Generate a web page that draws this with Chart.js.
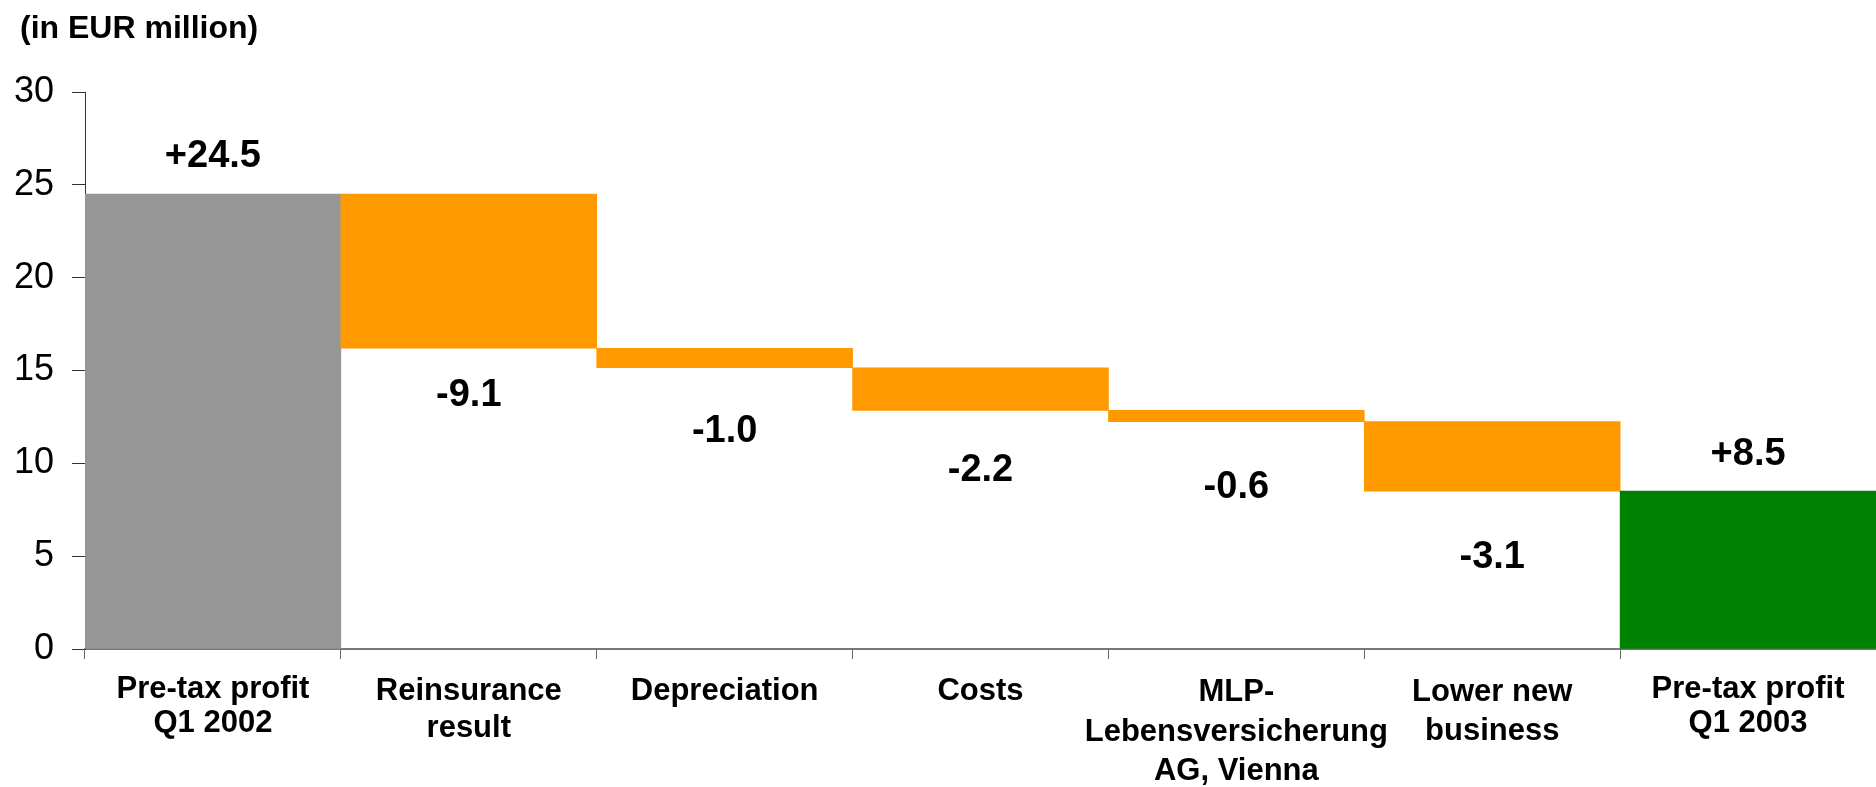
<!DOCTYPE html>
<html>
<head>
<meta charset="utf-8">
<script src="https://cdn.jsdelivr.net/npm/chart.js@4.4.1/dist/chart.umd.min.js"></script>
<style>
  html, body { margin: 0; padding: 0; background: #ffffff; }
  #wrap { width: 1876px; height: 787px; position: relative; }
</style>
</head>
<body>
<div id="wrap"><canvas id="c"></canvas></div>
<script>
// ---- data ----
const categories = [
  ["Pre-tax profit", "Q1 2002"],
  ["Reinsurance", "result"],
  "Depreciation",
  "Costs",
  ["MLP-", "Lebensversicherung", "AG, Vienna"],
  ["Lower new", "business"],
  ["Pre-tax profit", "Q1 2003"]
];
const barStart = [0, 16.2, 15.15, 12.85, 12.25, 8.5, 0];
const barEnd   = [24.5, 24.5, 16.2, 15.15, 12.85, 12.25, 8.5];
const valueLabels = ["+24.5", "-9.1", "-1.0", "-2.2", "-0.6", "-3.1", "+8.5"];
const barKinds = ["total", "delta", "delta", "delta", "delta", "delta", "total"];
const yTickValues = [0, 5, 10, 15, 20, 25, 30];
const unitTitle = "(in EUR million)";

// ---- styles ----
const barColors = ["#969696", "#FF9900", "#FF9900", "#FF9900", "#FF9900", "#FF9900", "#008000"];
const labelGap = [38, 47, 64, 60, 66, 66, 37];
const catLineHeights = [1.08, 1.2, 1.2, 1.2, 1.27, 1.25, 1.08];
const FONT = "'Liberation Sans', Arial, Helvetica, sans-serif";

const valueLabelPlugin = {
  id: 'valueLabels',
  afterDatasetsDraw(chart) {
    const ctx = chart.ctx;
    const meta = chart.getDatasetMeta(0);
    ctx.save();
    ctx.font = "bold 38px " + FONT;
    ctx.fillStyle = "#000000";
    ctx.textAlign = "center";
    ctx.textBaseline = "middle";
    meta.data.forEach((bar, i) => {
      const p = bar.getProps(['x', 'y', 'base'], true);
      const top = Math.min(p.y, p.base);
      const bottom = Math.max(p.y, p.base);
      const y = barKinds[i] === "total" ? top - labelGap[i] : bottom + labelGap[i];
      ctx.fillText(valueLabels[i], p.x, y);
    });
    ctx.restore();
  }
};

const unitTitlePlugin = {
  id: 'unitTitle',
  afterDraw(chart) {
    const ctx = chart.ctx;
    ctx.save();
    ctx.font = "bold 32px " + FONT;
    ctx.fillStyle = "#000000";
    ctx.textAlign = "left";
    ctx.textBaseline = "alphabetic";
    ctx.fillText(unitTitle, 20, 38);
    ctx.restore();
  }
};

new Chart(document.getElementById('c'), {
  type: 'bar',
  data: {
    labels: categories,
    datasets: [{
      data: barStart.map((s, i) => [s, barEnd[i]]),
      backgroundColor: barColors,
      borderWidth: 0,
      barPercentage: 1.0,
      categoryPercentage: 1.0
    }]
  },
  options: {
    responsive: true,
    maintainAspectRatio: false,
    animation: false,
    layout: { padding: { top: 92, left: 0, right: 0, bottom: 0 } },
    plugins: {
      legend: { display: false },
      tooltip: { enabled: false },
      title: { display: false }
    },
    scales: {
      x: {
        offset: true,
        grid: {
          offset: true,
          drawOnChartArea: false,
          drawTicks: true,
          tickLength: 10,
          color: "#666666"
        },
        border: { display: true, color: "#777777", width: 2 },
        ticks: {
          color: "#000000",
          font: (ctx) => ({ family: FONT, size: 31, weight: 'bold', lineHeight: catLineHeights[ctx.index] || 1.2 }),
          padding: 14,
          maxRotation: 0,
          autoSkip: false
        },
        afterFit(scale) { scale.height = 138; }
      },
      y: {
        min: 0,
        max: 30,
        afterBuildTicks(scale) { scale.ticks = yTickValues.map(v => ({ value: v })); },
        grid: {
          drawOnChartArea: false,
          drawTicks: true,
          tickLength: 13,
          color: "#333333"
        },
        border: { display: true, color: "#333333", width: 1 },
        ticks: {
          color: "#000000",
          font: { family: FONT, size: 36 },
          padding: 18
        },
        afterFit(scale) { scale.width = 85; }
      }
    }
  },
  plugins: [valueLabelPlugin, unitTitlePlugin]
});
</script>
</body>
</html>
